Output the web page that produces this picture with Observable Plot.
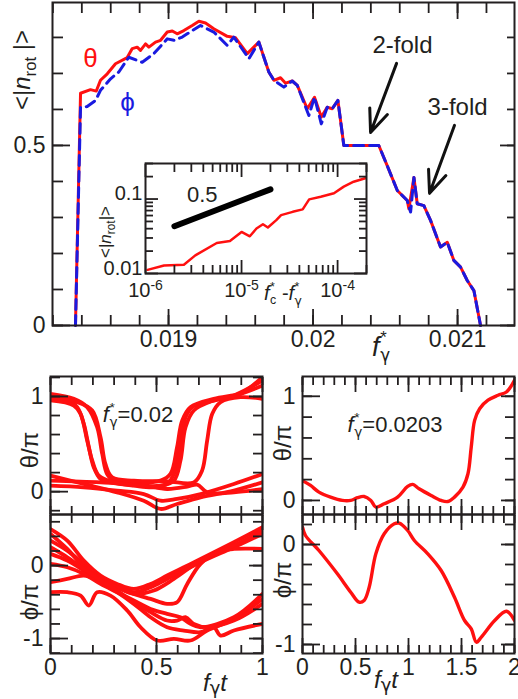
<!DOCTYPE html>
<html><head><meta charset="utf-8">
<script src="https://cdn.jsdelivr.net/npm/d3@7"></script>
<script src="https://cdn.jsdelivr.net/npm/@observablehq/plot@0.6"></script>
<style>
body{margin:0;background:#fff;}
#fig{position:relative;width:518px;height:699px;overflow:hidden;font-family:"Liberation Sans",Arial,Helvetica,sans-serif;color:#231f20;background:#fff;}
#fig svg{position:absolute;}
.lab{position:absolute;white-space:nowrap;line-height:1;transform:translate(-50%,-50%);}
.rot{transform:translate(-50%,-50%) rotate(-90deg);}
.sb{font-size:0.7em;position:relative;top:0.35em;}
.ss{display:inline-flex;flex-direction:column;font-size:0.62em;line-height:1.05;vertical-align:0.75em;margin-left:0.04em;text-align:left;}
.g{font-family:"DejaVu Sans",sans-serif;}
</style></head>
<body>
<div id="fig">
  <div class="lab rot" style="left:22px;top:70px;font-size:24px">&lt;|<i>n</i><span class="sb">rot</span> |&gt;</div>
  <div class="lab" style="left:381px;top:347px;font-size:27px"><i>f</i><span class="ss"><span>*</span><span class="g">γ</span></span></div>
  <div class="lab rot" style="left:105px;top:232px;font-size:17px">&lt;|<i>n</i><span class="sb">rot</span>|&gt;</div>
  <div class="lab" style="left:283px;top:294px;font-size:20px"><i>f</i><span class="ss"><span>*</span><span>c</span></span> -<i>f</i><span class="ss"><span>*</span><span class="g">γ</span></span></div>
  <div class="lab rot" style="left:30px;top:450px;font-size:24px">θ/π</div>
  <div class="lab rot" style="left:30px;top:602px;font-size:24px">ϕ/π</div>
  <div class="lab rot" style="left:283px;top:443px;font-size:24px">θ/π</div>
  <div class="lab rot" style="left:283px;top:580px;font-size:24px">ϕ/π</div>
  <div class="lab" style="left:138px;top:415px;font-size:22px"><i>f</i><span class="ss"><span>*</span><span class="g">γ</span></span>=0.02</div>
  <div class="lab" style="left:395px;top:425px;font-size:22px"><i>f</i><span class="ss"><span>*</span><span class="g">γ</span></span>=0.0203</div>
  <div class="lab" style="left:215px;top:683px;font-size:24px"><i>f</i><span class="sb g" style="font-size:0.75em;top:0.15em">γ</span><i>t</i></div>
  <div class="lab" style="left:386px;top:680px;font-size:24px"><i>f</i><span class="sb g" style="font-size:0.75em;top:0.15em">γ</span><i>t</i></div>
</div>
<script>
// ---------- main panel data ----------
const fGammaTheta = [0.018356,0.018391,0.018460,0.018500,0.018529,0.018576,0.018633,0.018714,0.018749,0.018783,0.018806,0.018841,0.018864,0.018910,0.018945,0.018991,0.019026,0.019060,0.019106,0.019164,0.019210,0.019256,0.019313,0.019406,0.019464,0.019545,0.019590,0.019625,0.019694,0.019729,0.019775,0.019810,0.019856,0.019891,0.019960,0.020010,0.020057,0.020098,0.020133,0.020172,0.020213,0.020455,0.020513,0.020583,0.020652,0.020663,0.020698,0.020721,0.020767,0.020813,0.020882,0.020929,0.020974,0.021021,0.021067,0.021113,0.021159];
const nRotTheta = [0,0.645,0.655,0.651,0.681,0.699,0.727,0.744,0.769,0.773,0.764,0.782,0.773,0.787,0.792,0.815,0.818,0.810,0.819,0.833,0.845,0.840,0.824,0.803,0.799,0.755,0.773,0.787,0.704,0.681,0.688,0.673,0.679,0.667,0.602,0.634,0.579,0.606,0.602,0.625,0.5,0.5,0.444,0.375,0.347,0.324,0.411,0.338,0.333,0.292,0.218,0.231,0.181,0.162,0.125,0.097,0];
const fGammaPhi = [0.018356,0.018391,0.018437,0.018495,0.018529,0.018599,0.018656,0.018725,0.018818,0.018898,0.018991,0.019037,0.019095,0.019129,0.019221,0.019313,0.019406,0.019452,0.019556,0.019625,0.019694,0.019729,0.019798,0.019856,0.019891,0.019971,0.020010,0.020057,0.020098,0.020133,0.020172,0.020213,0.020455,0.020513,0.020583,0.020652,0.020675,0.020698,0.020721,0.020767,0.020813,0.020882,0.020929,0.020974,0.021021,0.021067,0.021113,0.021159];
const nRotPhi = [0,0.606,0.608,0.625,0.653,0.685,0.704,0.745,0.731,0.755,0.796,0.792,0.801,0.810,0.833,0.815,0.778,0.801,0.741,0.787,0.704,0.681,0.662,0.679,0.667,0.583,0.634,0.560,0.606,0.602,0.625,0.5,0.5,0.444,0.375,0.347,0.315,0.411,0.338,0.333,0.292,0.218,0.231,0.181,0.162,0.125,0.097,0];

const seriesNames = ["θ","ϕ"];
const seriesF = [0.01846, 0.018716];
const seriesN = [0.742, 0.619];
const foldText = ["2-fold","3-fold"];
const foldF = [0.020619, 0.021];
const foldN = [0.778, 0.606];
const arrowF1 = [0.020578, 0.020979];
const arrowN1 = [0.728, 0.556];
const arrowF2 = [0.020398, 0.020806];
const arrowN2 = [0.536, 0.367];

const mainXMajor = [0.019, 0.020, 0.021];
const mainXLabels = ["0.019","0.02","0.021"];
const mainYMajor = [0, 0.5];
const mainYLabels = ["0","0.5"];

// ---------- inset data ----------
const insetDf = [1.05e-6,1.56e-6,2.51e-6,3.30e-6,5.52e-6,7.57e-6,1.0e-5,1.22e-5,1.43e-5,1.67e-5,1.88e-5,2.30e-5,2.58e-5,3.41e-5,4.33e-5,5.06e-5,6.68e-5,9.17e-5,1.16e-4,1.47e-4,1.94e-4];
const insetN = [0.0112,0.0128,0.0131,0.0175,0.0257,0.0273,0.0361,0.0316,0.0402,0.0459,0.0415,0.052,0.0608,0.0673,0.0726,0.099,0.1074,0.1194,0.1466,0.171,0.1905];
const slopeDf = [2e-6, 2e-5];
const slopeN = [0.0432, 0.135];
const slopeText = ["0.5"];
const slopeTextDf = [3.9e-6];
const slopeTextN = [0.113];
const insetXMajor = [1e-6, 1e-5, 1e-4];
const insetXLabels = ["10^-6","10^-5","10^-4"];
const insetYMajor = [0.01, 0.1];
const insetYLabels = ["0.01","0.1"];

// ---------- bottom-left (f*=0.02) trajectories [t, value/π] ----------
const thetaA1 = [[0,0.993],[0.079,0.958],[0.126,0.888],[0.157,0.712],[0.181,0.467],[0.204,0.256],[0.236,0.133],[0.283,0.098],[0.393,0.063],[0.487,0.046],[0.55,0.081],[0.582,0.186],[0.613,0.502],[0.637,0.782],[0.668,0.888],[0.739,0.94],[0.865,1.011],[1.0,1.168]];
const thetaA2 = [[0,1.028],[0.11,0.975],[0.173,0.888],[0.22,0.677],[0.244,0.396],[0.267,0.186],[0.299,0.116],[0.393,0.098],[0.519,0.116],[0.566,0.186],[0.597,0.467],[0.621,0.747],[0.66,0.888],[0.77,0.975],[0.896,1.028],[1.0,1.116]];
const thetaA3 = [[0,0.975],[0.126,0.94],[0.197,0.853],[0.236,0.572],[0.259,0.291],[0.291,0.151],[0.393,0.116],[0.55,0.109],[0.676,0.098],[0.715,0.221],[0.739,0.537],[0.763,0.818],[0.802,0.94],[0.896,0.993],[1.0,0.975]];
const thetaA4 = [[0,0.958],[0.11,0.905],[0.142,0.818],[0.173,0.537],[0.197,0.326],[0.228,0.168],[0.299,0.098],[0.425,0.063],[0.519,0.063],[0.582,0.116],[0.613,0.326],[0.637,0.677],[0.676,0.853],[0.77,0.958],[0.896,1.028],[1.0,1.204]];
const thetaB1 = [[0,0.168],[0.157,0.081],[0.314,-0.007],[0.44,-0.095],[0.519,-0.182],[0.597,-0.13],[0.708,-0.06],[0.865,0.011],[1.0,0.098]];
const thetaB2 = [[0,0.063],[0.157,0.046],[0.314,0.011],[0.44,-0.025],[0.519,-0.095],[0.597,-0.077],[0.708,-0.025],[0.865,0.081],[1.0,0.186]];
const thetaB3 = [[0,0.116],[0.236,0.098],[0.425,0.074],[0.55,0.028],[0.645,0.053],[0.692,0.074],[0.739,-0.007],[0.865,-0.007],[1.0,0.028]];

const phiP1 = [[0,0.50],[0.079,0.342],[0.157,0.068],[0.236,-0.137],[0.314,-0.251],[0.393,-0.32],[0.472,-0.251],[0.55,-0.137],[0.629,-0.023],[0.708,0.091],[0.865,0.32],[1.0,0.525]];
const phiP2 = [[0,0.342],[0.079,0.205],[0.157,0.023],[0.236,-0.16],[0.314,-0.274],[0.393,-0.365],[0.472,-0.297],[0.55,-0.183],[0.708,0.046],[0.865,0.251],[1.0,0.434]];
const phiP3 = [[0,0.434],[0.079,0.228],[0.157,-0.023],[0.236,-0.183],[0.314,-0.297],[0.393,-0.388],[0.472,-0.457],[0.55,-0.525],[0.597,-0.502],[0.645,-0.251],[0.708,0.023],[0.786,0.183],[0.865,0.228],[1.0,0.228]];
const phiP4 = [[0,-0.228],[0.079,-0.183],[0.157,-0.137],[0.236,-0.205],[0.314,-0.297],[0.393,-0.388],[0.487,-0.342],[0.582,-0.183],[0.708,0.068],[0.865,0.274],[1.0,0.479]];
const phiP5 = [[0,-0.365],[0.079,-0.365],[0.142,-0.411],[0.181,-0.548],[0.22,-0.365],[0.283,-0.411],[0.362,-0.616],[0.425,-0.845],[0.503,-1.027],[0.582,-1.005],[0.66,-1.027],[0.739,-0.89],[0.865,-0.73],[1.0,-0.457]];
const phiP6 = [[0,0.16],[0.079,0.068],[0.157,-0.068],[0.236,-0.228],[0.314,-0.365],[0.393,-0.525],[0.472,-0.708],[0.55,-0.845],[0.629,-0.89],[0.708,-0.913],[0.77,-0.845],[0.802,-0.959],[0.865,-0.89],[1.0,-0.799]];
const phiP7 = [[0,0.023],[0.079,-0.023],[0.157,-0.114],[0.236,-0.251],[0.314,-0.365],[0.393,-0.479],[0.472,-0.594],[0.55,-0.662],[0.613,-0.708],[0.66,-0.799],[0.708,-0.845],[0.865,-0.708],[1.0,-0.388]];
const phiP8 = [[0,0.251],[0.079,0.114],[0.157,-0.046],[0.236,-0.205],[0.314,-0.342],[0.393,-0.502],[0.472,-0.639],[0.55,-0.753],[0.597,-0.753],[0.637,-0.708],[0.676,-0.799],[0.739,-0.845],[0.865,-0.753],[1.0,-0.525]];

// ---------- bottom-right (f*=0.0203) trajectory ----------
const thetaRight = [[0,0.19],[0.076,0.144],[0.155,0.08],[0.265,0.032],[0.376,0.0],[0.455,0.0],[0.518,0.026],[0.581,0.038],[0.645,0],[0.692,-0.064],[0.771,-0.032],[0.897,0.032],[0.992,0.135],[1.04,0.154],[1.10,0.112],[1.213,0.048],[1.308,0],[1.371,-0.01],[1.434,0.032],[1.514,0.128],[1.561,0.256],[1.592,0.513],[1.624,0.769],[1.671,0.881],[1.75,0.962],[1.845,1.01],[1.924,1.041],[2.0,1.154]];
const phiRight = [[0,0.173],[0.028,0.09],[0.155,-0.06],[0.329,-0.293],[0.455,-0.477],[0.534,-0.577],[0.581,-0.56],[0.629,-0.427],[0.692,-0.093],[0.771,0.107],[0.866,0.207],[0.913,0.213],[0.992,0.14],[1.055,0.04],[1.182,-0.093],[1.308,-0.26],[1.434,-0.527],[1.529,-0.76],[1.592,-0.843],[1.64,-0.977],[1.687,-0.927],[1.813,-0.76],[1.924,-0.667],[2.0,-0.76]];

const tLabels1 = ["0","0.5","1"];
const tMajor1 = [0, 0.5, 1];
const tLabels2 = ["0","0.5","1","1.5","2"];
const tMajor2 = [0, 0.5, 1, 1.5, 2];
const thetaMajor = [0, 1];
const thetaLabels = ["0","1"];
const phiMajor = [-1, 0];
const phiLabels = ["-1","0"];

// ---------- helpers ----------
const FONT = "'Liberation Sans', Arial, Helvetica, sans-serif";
const INK = "#231f20";
const RED = "#ff1010";
const BLUE = "#1a1ae0";
const fig = document.getElementById("fig");
function place(svg, left, top){ svg.style.left = left + "px"; svg.style.top = top + "px"; fig.appendChild(svg); }
function inDom(arr, dom){ const lo = Math.min(...dom), hi = Math.max(...dom); return arr.filter(v => v >= lo - 1e-12 && v <= hi + 1e-12); }

function frameTicks(o){
  const sw = 1.8, m = [];
  for (const anchor of ["bottom","top"]) {
    m.push(Plot.axisX(o.xMinor, {anchor, tickSize: -o.xMinorLen, fill: "none", label: null, strokeWidth: sw}));
    m.push(Plot.axisX(o.xMajor, {anchor, tickSize: -o.xMajorLen, fill: "none", label: null, strokeWidth: sw}));
  }
  m.push(Plot.axisY(o.yMinor, {anchor: "left", tickSize: -o.yMinorL, fill: "none", label: null, strokeWidth: sw}));
  m.push(Plot.axisY(o.yMajor, {anchor: "left", tickSize: -o.yMajorL, fill: "none", label: null, strokeWidth: sw}));
  m.push(Plot.axisY(o.yMinor, {anchor: "right", tickSize: -o.yMinorR, fill: "none", label: null, strokeWidth: sw}));
  m.push(Plot.axisY(o.yMajor, {anchor: "right", tickSize: -o.yMajorR, fill: "none", label: null, strokeWidth: sw}));
  if (o.xLabels) m.push(Plot.axisX(o.xMajor, {anchor: "bottom", tickSize: 0, tickPadding: o.xPad, label: null, tickFormat: d => o.xLabels[o.xMajor.indexOf(d)]}));
  if (o.yLabels) m.push(Plot.axisY(o.yMajor, {anchor: "left", tickSize: 0, tickPadding: o.yPad, dy: o.yDy || 0, label: null, tickFormat: d => o.yLabels[o.yMajor.indexOf(d)]}));
  return m;
}

// ---------- main plot ----------
const mainDom = [0.018197, 0.021394];
const mainYDom = [0, 0.897];
const thetaRows = fGammaTheta.map((f, i) => ({f, n: nRotTheta[i]}));
const phiRows = fGammaPhi.map((f, i) => ({f, n: nRotPhi[i]}));
const main = Plot.plot({
  width: 518, height: 360, marginLeft: 52, marginRight: 4, marginTop: 2, marginBottom: 35,
  style: {fontFamily: FONT, fontSize: "23px", color: INK, background: "transparent", overflow: "visible"},
  x: {domain: mainDom}, y: {domain: mainYDom},
  marks: [
    Plot.line(thetaRows, {x: "f", y: "n", stroke: RED, strokeWidth: 3}),
    Plot.line(phiRows, {x: "f", y: "n", stroke: BLUE, strokeWidth: 3, strokeDasharray: "10,6"}),
    ...frameTicks({
      xMinor: d3.range(91, 107).map(k => k * 0.0002), xMajor: mainXMajor, xMinorLen: 10, xMajorLen: 16,
      yMinor: d3.range(0, 9).map(k => k / 10), yMajor: mainYMajor, yMinorL: 11, yMajorL: 18, yMinorR: 8, yMajorR: 15,
      xLabels: mainXLabels, yLabels: mainYLabels, xPad: 5, yPad: 7
    }),
    Plot.frame({stroke: INK, strokeWidth: 2}),
    Plot.text(seriesNames, {x: (d, i) => seriesF[i], y: (d, i) => seriesN[i], text: d => d, fill: (d, i) => i ? BLUE : RED, fontSize: 26}),
    Plot.text(foldText, {x: (d, i) => foldF[i], y: (d, i) => foldN[i], text: d => d, fill: INK, fontSize: 24}),
    Plot.arrow(foldText, {x1: (d, i) => arrowF1[i], y1: (d, i) => arrowN1[i], x2: (d, i) => arrowF2[i], y2: (d, i) => arrowN2[i], stroke: "#111", strokeWidth: 3, headLength: 16, headAngle: 45})
  ]
});
place(main, 0, 0);

// ---------- inset ----------
const insetRows = insetDf.map((x, i) => ({x, n: insetN[i]}));
const slopeRows = slopeDf.map((x, i) => ({x, n: slopeN[i]}));
const insetXDom = [1e-6, 2e-4], insetYDom = [0.01, 0.3];
const insetXMinor = inDom([1e-6,1e-5,1e-4].flatMap(p => [2,3,4,5,6,7,8,9].map(m => m * p)), insetXDom);
const insetYMinor = inDom([0.01,0.1].flatMap(p => [2,3,4,5,6,7,8,9].map(m => m * p)), insetYDom);
const inset = Plot.plot({
  width: 285, height: 150, marginLeft: 55, marginRight: 9, marginTop: 5, marginBottom: 35,
  style: {fontFamily: FONT, fontSize: "20px", color: INK, background: "transparent", overflow: "visible"},
  x: {type: "log", domain: insetXDom}, y: {type: "log", domain: insetYDom},
  marks: [
    Plot.line(insetRows, {x: "x", y: "n", stroke: RED, strokeWidth: 2.5}),
    Plot.line(slopeRows, {x: "x", y: "n", stroke: "#000", strokeWidth: 6}),
    ...frameTicks({
      xMinor: insetXMinor, xMajor: insetXMajor, xMinorLen: 8, xMajorLen: 13,
      yMinor: insetYMinor, yMajor: insetYMajor, yMinorL: 8, yMajorL: 13, yMinorR: 8, yMajorR: 13,
      xLabels: insetXLabels, yLabels: insetYLabels, xPad: 9, yPad: 3, yDy: -5
    }),
    Plot.frame({stroke: INK, strokeWidth: 2}),
    Plot.text(slopeText, {x: (d, i) => slopeTextDf[i], y: (d, i) => slopeTextN[i], text: d => d, fill: INK, fontSize: 22})
  ]
});
d3.select(inset).selectAll('g[aria-label="x-axis tick label"] text').each(function(){
  const s = this.textContent; if (!s.includes("^")) return;
  const [base, exp] = s.split("^");
  this.textContent = "";
  d3.select(this).append("tspan").text(base);
  d3.select(this).append("tspan").attr("dy", "-0.5em").attr("font-size", "0.7em").text(exp);
});
place(inset, 90, 158);

// ---------- bottom panels ----------
function panel({curves, xDom, yDom, xMajor, xLabels, yMajor, yLabels, yMinorAll, height, mt, mb}){
  const xMinor = inDom(d3.range(0, Math.round(xDom[1] * 10) + 1).map(k => k / 10), xDom);
  const yMinor = inDom(yMinorAll, yDom);
  return Plot.plot({
    width: 266, height, marginLeft: 50, marginRight: 4, marginTop: mt, marginBottom: mb,
    style: {fontFamily: FONT, fontSize: "23px", color: INK, background: "transparent", overflow: "visible"},
    x: {domain: xDom}, y: {domain: yDom},
    marks: [
      ...curves.map(c => Plot.line(c, {x: d => d[0], y: d => d[1], stroke: RED, strokeWidth: curves.length > 1 ? 3.8 : 3.4, curve: "catmull-rom", clip: true})),
      ...frameTicks({
        xMinor, xMajor, xMinorLen: 8, xMajorLen: 15,
        yMinor, yMajor, yMinorL: 10, yMajorL: 18, yMinorR: 10, yMajorR: 14,
        xLabels, yLabels, xPad: 5, yPad: 7
      }),
      Plot.frame({stroke: INK, strokeWidth: 2})
    ]
  });
}
const thetaMinorAll = [-0.2,0,0.2,0.4,0.6,0.8,1.0,1.2];
const phiMinorAll = [-1.2,-1.0,-0.8,-0.6,-0.4,-0.2,0,0.2,0.4,0.6];

place(panel({curves: [thetaB1, thetaB2, thetaB3, thetaA1, thetaA2, thetaA3, thetaA4], xDom: [0, 1], yDom: [-0.24, 1.21],
  xMajor: tMajor1, xLabels: null, yMajor: thetaMajor, yLabels: thetaLabels, yMinorAll: thetaMinorAll, height: 156, mt: 16, mb: 2}), 0, 360);
place(panel({curves: [phiP1, phiP2, phiP3, phiP4, phiP5, phiP6, phiP7, phiP8], xDom: [0, 1], yDom: [-1.205, 0.70],
  xMajor: tMajor1, xLabels: tLabels1, yMajor: phiMajor, yLabels: phiLabels, yMinorAll: phiMinorAll, height: 180, mt: 2, mb: 39}), 0, 512);
place(panel({curves: [thetaRight], xDom: [0, 2], yDom: [-0.135, 1.19],
  xMajor: tMajor2, xLabels: null, yMajor: thetaMajor, yLabels: thetaLabels, yMinorAll: thetaMinorAll, height: 156, mt: 16, mb: 2}), 252, 360);
place(panel({curves: [phiRight], xDom: [0, 2], yDom: [-1.09, 0.30],
  xMajor: tMajor2, xLabels: tLabels2, yMajor: phiMajor, yLabels: phiLabels, yMinorAll: phiMinorAll, height: 180, mt: 2, mb: 39}), 252, 512);
</script>
</body></html>
